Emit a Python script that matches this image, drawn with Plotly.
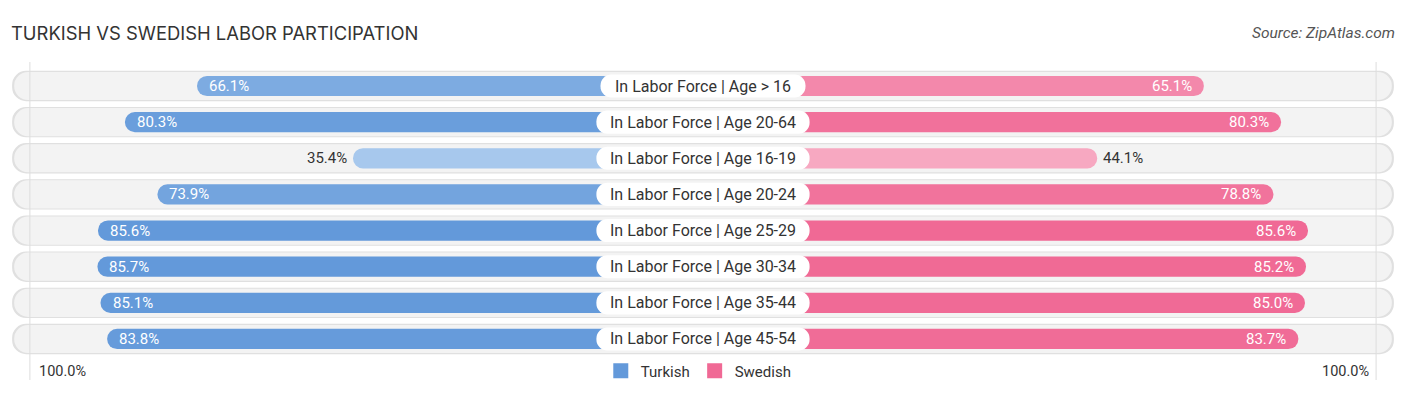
import plotly.graph_objects as go

categories = [
    "In Labor Force | Age > 16",
    "In Labor Force | Age 20-64",
    "In Labor Force | Age 16-19",
    "In Labor Force | Age 20-24",
    "In Labor Force | Age 25-29",
    "In Labor Force | Age 30-34",
    "In Labor Force | Age 35-44",
    "In Labor Force | Age 45-54",
]
turkish = [66.1, 80.3, 35.4, 73.9, 85.6, 85.7, 85.1, 83.8]
swedish = [65.1, 80.3, 44.1, 78.8, 85.6, 85.2, 85.0, 83.7]
series_names = ["Turkish", "Swedish"]
axis_labels = ["100.0%", "100.0%"]

W, H = 1406, 395
PX = 5.08            # pixels per percentage unit
GAP = 33.5           # half-gap under the centre label (units)
HALF = W / 2 / PX
ROW = 36.14
Y0 = 86

def mix(c1, c2, t):
    t = max(0.0, min(1.0, t))
    return "rgb(%d,%d,%d)" % tuple(round(a + (b - a) * t) for a, b in zip(c1, c2))

def blue(v):
    return mix((167, 200, 237), (99, 153, 218), (v - 35.4) / (85.7 - 35.4))

def pink(v):
    return mix((247, 168, 193), (240, 105, 149), (v - 44.1) / (85.6 - 44.1))

n = len(categories)
ys = list(range(n))
fig = go.Figure()

# background pills (shadow + fill)
for col, wd, ext in [("#e0e0e0", 0.84, 136.0), ("#f3f3f3", 0.78, 135.6)]:
    fig.add_trace(go.Bar(
        y=ys, x=[2 * ext] * n, base=[-ext] * n, orientation="h", width=wd,
        marker=dict(color=col, cornerradius=14, line=dict(width=0)),
        showlegend=False, hoverinfo="skip"))

# data bars (drawn from the centre; the inner part is hidden by the label pill)
fig.add_trace(go.Bar(
    y=ys, x=[-(v + GAP) for v in turkish], base=[0] * n, orientation="h", width=0.56,
    marker=dict(color=[blue(v) for v in turkish], cornerradius=10, line=dict(width=0)),
    name=series_names[0], showlegend=False, hoverinfo="skip"))
fig.add_trace(go.Bar(
    y=ys, x=[v + GAP for v in swedish], base=[0] * n, orientation="h", width=0.56,
    marker=dict(color=[pink(v) for v in swedish], cornerradius=10, line=dict(width=0)),
    name=series_names[1], showlegend=False, hoverinfo="skip"))

# centre label pills
hw = [len(c) * 4.1 / PX for c in categories]
fig.add_trace(go.Bar(
    y=ys, x=[2 * h for h in hw], base=[-h for h in hw], orientation="h", width=0.64,
    marker=dict(color="white", cornerradius=12, line=dict(width=0)),
    showlegend=False, hoverinfo="skip"))

# legend entries
for nm, col in [(series_names[0], blue(85.7)), (series_names[1], pink(85.6))]:
    fig.add_trace(go.Scatter(x=[None], y=[None], mode="markers", name=nm,
                             marker=dict(symbol="square", size=15, color=col)))

ann = []
for i, c in enumerate(categories):
    ann.append(dict(x=0, y=i, xref="x", yref="y", text=c, showarrow=False,
                    font=dict(family="Roboto", size=16, color="#333333")))
    v = turkish[i]
    if v > 50:
        ann.append(dict(x=-(GAP + v), y=i, xref="x", yref="y", text="%.1f%%" % v,
                        xanchor="left", xshift=10, showarrow=False,
                        font=dict(family="Roboto", size=15, color="white")))
    else:
        ann.append(dict(x=-(GAP + v), y=i, xref="x", yref="y", text="%.1f%%" % v,
                        xanchor="right", xshift=-4, showarrow=False,
                        font=dict(family="Roboto", size=15, color="#333333")))
    v = swedish[i]
    if v > 50:
        ann.append(dict(x=GAP + v, y=i, xref="x", yref="y", text="%.1f%%" % v,
                        xanchor="right", xshift=-10, showarrow=False,
                        font=dict(family="Roboto", size=15, color="white")))
    else:
        ann.append(dict(x=GAP + v, y=i, xref="x", yref="y", text="%.1f%%" % v,
                        xanchor="left", xshift=4, showarrow=False,
                        font=dict(family="Roboto", size=15, color="#333333")))

ann.append(dict(x=9 / W, y=1 - 33 / H, xref="paper", yref="paper", xanchor="left",
                yanchor="middle", text="TURKISH VS SWEDISH LABOR PARTICIPATION", showarrow=False,
                font=dict(family="Inter", size=18.4, color="#333333")))
ann.append(dict(x=1397 / W, y=1 - 33 / H, xref="paper", yref="paper", xanchor="right",
                yanchor="middle", text="<i>Source: ZipAtlas.com</i>", showarrow=False,
                font=dict(family="Roboto", size=15.5, color="#555555")))
ann.append(dict(x=-(GAP + 100), y=1 - 371 / H, xref="x", yref="paper", xanchor="left",
                xshift=12, yanchor="middle", text=axis_labels[0], showarrow=False,
                font=dict(family="Roboto", size=14.5, color="#333333")))
ann.append(dict(x=GAP + 100, y=1 - 371 / H, xref="x", yref="paper", xanchor="right",
                xshift=-10, yanchor="middle", text=axis_labels[1], showarrow=False,
                font=dict(family="Roboto", size=14.5, color="#333333")))

shapes = []
for sgn in (-1, 1):
    xv = sgn * (GAP + 99)
    shapes.append(dict(type="line", xref="x", yref="paper", x0=xv, x1=xv,
                       y0=1 - 380 / H, y1=1 - 62 / H, layer="above",
                       line=dict(color="#dddddd", width=1)))

fig.update_layout(
    width=W, height=H, barmode="overlay",
    margin=dict(l=0, r=0, t=0, b=0),
    paper_bgcolor="white", plot_bgcolor="white",
    xaxis=dict(range=[-HALF, HALF], visible=False, fixedrange=True),
    yaxis=dict(range=[(H - Y0) / ROW, -Y0 / ROW], visible=False, fixedrange=True),
    annotations=ann, shapes=shapes,
    legend=dict(orientation="h", x=0.497, xanchor="center", y=1 - 371 / H, yanchor="middle",
                font=dict(family="Roboto", size=15, color="#333333"),
                itemwidth=30, traceorder="normal", bgcolor="rgba(0,0,0,0)"),
    hovermode=False,
)

fig.write_html("out.html", config={"displayModeBar": False},
               post_script="document.body.style.margin='0';")
